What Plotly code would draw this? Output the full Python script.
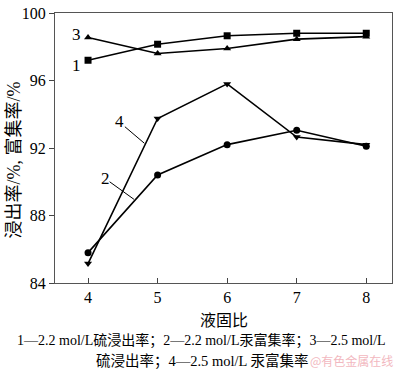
import plotly.graph_objects as go

x_ratio = [4, 5, 6, 7, 8]
s1_sulfur_22 = [97.2, 98.15, 98.65, 98.8, 98.8]
s2_hg_22 = [85.8, 90.4, 92.2, 93.05, 92.1]
s3_sulfur_25 = [98.55, 97.6, 97.9, 98.45, 98.6]
s4_hg_25 = [85.15, 93.75, 95.8, 92.65, 92.2]

series = [
    ("1", s1_sulfur_22, "square"),
    ("2", s2_hg_22, "circle"),
    ("3", s3_sulfur_25, "triangle-up"),
    ("4", s4_hg_25, "triangle-down"),
]

FONT = "Liberation Serif, Times New Roman, Noto Sans CJK SC, serif"

fig = go.Figure()
for name, ys, sym in series:
    fig.add_trace(go.Scatter(
        x=x_ratio, y=ys, mode="lines+markers", name=name,
        line=dict(color="black", width=1.6),
        marker=dict(symbol=sym, size=7, color="black"),
        showlegend=False, cliponaxis=False,
    ))

# series labels and leader lines
labels = [("3", 3.84, 98.73), ("1", 3.84, 96.88), ("4", 4.45, 93.58), ("2", 4.245, 90.2)]
for t, lx, ly in labels:
    fig.add_annotation(x=lx, y=ly, text=t, showarrow=False,
                       xanchor="center", yanchor="middle",
                       font=dict(family=FONT, size=17, color="black"))
fig.add_shape(type="line", x0=4.53, y0=93.26, x1=4.81, y1=92.28,
              line=dict(color="black", width=1))
fig.add_shape(type="line", x0=4.31, y0=90.0, x1=4.66, y1=88.96,
              line=dict(color="black", width=1))

fig.update_xaxes(range=[3.525, 8.37], tickvals=x_ratio, ticks="inside", ticklen=5,
                 showline=True, linecolor="#555", linewidth=1.2, mirror=True,
                 showgrid=False, zeroline=False, ticklabeloverflow="allow",
                 tickfont=dict(family=FONT, size=16, color="black"))
fig.update_yaxes(range=[84, 100], tickvals=[84, 88, 92, 96, 100], ticks="outside", ticklen=5,
                 showline=True, linecolor="#555", linewidth=1.2, mirror=True,
                 showgrid=False, zeroline=False, ticklabeloverflow="allow",
                 tickfont=dict(family=FONT, size=16, color="black"))

def note(x, y, text, size, color="black", family=FONT, angle=0, xanchor="center"):
    fig.add_annotation(xref="paper", yref="paper", x=x, y=y, text=text,
                       showarrow=False, textangle=angle,
                       xanchor=xanchor, yanchor="middle",
                       font=dict(family=family, size=size, color=color))

note(0.5, -0.140, "液固比", 16)
note(-0.122, 0.457, "浸出率/%, 富集率/%", 18, angle=-90)
note(0.436, -0.212, "1—2.2 mol/L硫浸出率；2—2.2 mol/L汞富集率；3—2.5 mol/L", 14)
note(0.438, -0.288, "硫浸出率；4—2.5 mol/L 汞富集率", 14.5)
note(1.009, -0.288, "@有色金属在线", 12, color="#f2b8c0",
     family="Noto Sans CJK SC", xanchor="right")

fig.update_layout(width=400, height=376, margin=dict(l=55, r=8, t=5, b=93),
                  plot_bgcolor="white", paper_bgcolor="white")
fig.write_html("out.html", config={"displayModeBar": False},
               post_script="document.body.style.margin='0';")
